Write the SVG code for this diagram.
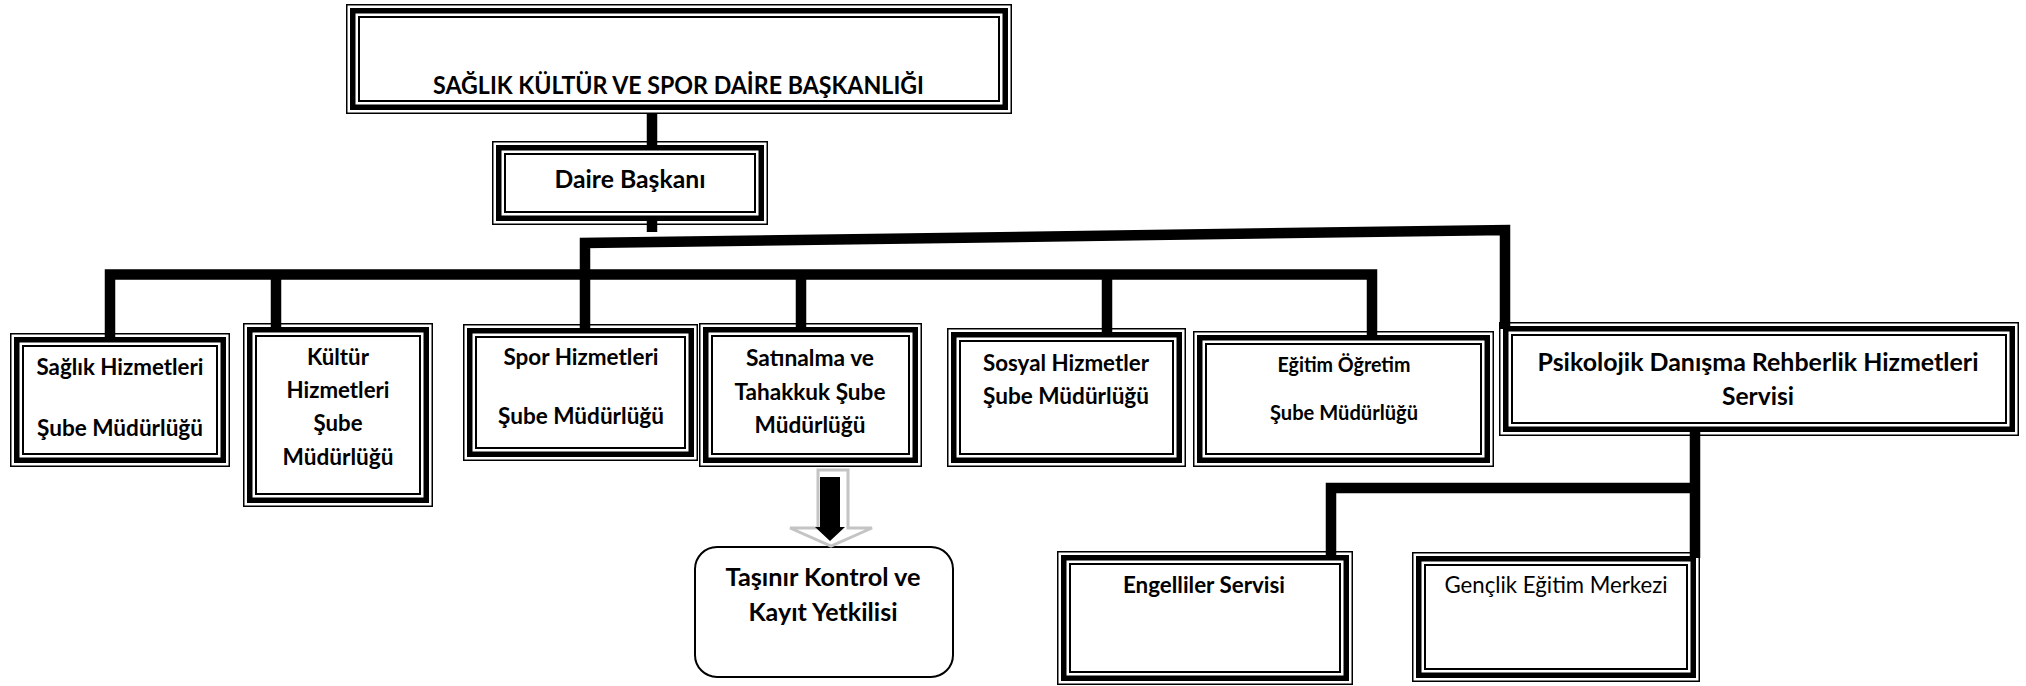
<svg xmlns="http://www.w3.org/2000/svg" width="2026" height="686" viewBox="0 0 2026 686">
<style>
  .bg{fill:#ffffff}
  .o{fill:#ffffff;stroke:#000;stroke-width:1.5}
  .t{fill:none;stroke:#000;stroke-width:5.5}
  .i{fill:none;stroke:#000;stroke-width:2}
  .c{fill:none;stroke:#000;stroke-width:10.5;stroke-linecap:butt;stroke-linejoin:miter}
  text{font-family:Lato,"Noto Sans","DejaVu Sans",sans-serif;fill:#000;text-anchor:middle}
  .b{font-weight:700;font-size:22.6px}
  .l{font-weight:700;font-size:25px}
  .s{font-weight:700;font-size:20px}
  .r{font-weight:400;font-size:22.6px}
</style>
<rect class="bg" x="0" y="0" width="2026" height="686"/>

<g id="n-top">
  <rect class="o" x="346.75" y="4.75" width="664.5" height="108.5"/>
  <rect class="t" x="352.75" y="10.75" width="652.5" height="96.5"/>
  <rect class="i" x="359" y="17" width="640" height="84"/>
  <text class="l" x="678.5" y="94" textLength="491" lengthAdjust="spacingAndGlyphs">SAĞLIK KÜLTÜR VE SPOR DAİRE BAŞKANLIĞI</text>
</g>

<g id="n-daire">
  <rect class="o" x="492.75" y="141.75" width="274.5" height="82.5"/>
  <rect class="t" x="498.75" y="147.75" width="262.5" height="70.5"/>
  <rect class="i" x="505" y="154" width="250" height="58"/>
  <text class="l" x="630" y="188" textLength="151" lengthAdjust="spacingAndGlyphs">Daire Başkanı</text>
</g>

<g id="n-saglik">
  <rect class="o" x="10.75" y="333.75" width="218.5" height="132.5"/>
  <rect class="t" x="16.75" y="339.75" width="206.5" height="120.5"/>
  <rect class="i" x="23" y="346" width="194" height="108"/>
  <text class="b" x="120" y="375" textLength="167" lengthAdjust="spacingAndGlyphs">Sağlık Hizmetleri</text>
  <text class="b" x="120" y="436" textLength="166" lengthAdjust="spacingAndGlyphs">Şube Müdürlüğü</text>
</g>

<g id="n-kultur">
  <rect class="o" x="243.75" y="323.75" width="188.5" height="182.5"/>
  <rect class="t" x="249.75" y="329.75" width="176.5" height="170.5"/>
  <rect class="i" x="256" y="336" width="164" height="158"/>
  <text class="b" x="338" y="365" textLength="62" lengthAdjust="spacingAndGlyphs">Kültür</text>
  <text class="b" x="338" y="398" textLength="103" lengthAdjust="spacingAndGlyphs">Hizmetleri</text>
  <text class="b" x="338" y="431" textLength="49" lengthAdjust="spacingAndGlyphs">Şube</text>
  <text class="b" x="338" y="465" textLength="111" lengthAdjust="spacingAndGlyphs">Müdürlüğü</text>
</g>

<g id="n-spor">
  <rect class="o" x="463.75" y="324.75" width="233.5" height="135.5"/>
  <rect class="t" x="469.75" y="330.75" width="221.5" height="123.5"/>
  <rect class="i" x="476" y="337" width="209" height="111"/>
  <text class="b" x="581" y="365" textLength="155" lengthAdjust="spacingAndGlyphs">Spor Hizmetleri</text>
  <text class="b" x="581" y="424" textLength="166" lengthAdjust="spacingAndGlyphs">Şube Müdürlüğü</text>
</g>

<g id="n-satinalma">
  <rect class="o" x="699.75" y="323.75" width="221.5" height="142.5"/>
  <rect class="t" x="705.75" y="329.75" width="209.5" height="130.5"/>
  <rect class="i" x="712" y="336" width="197" height="118"/>
  <text class="b" x="810" y="366" textLength="128" lengthAdjust="spacingAndGlyphs">Satınalma ve</text>
  <text class="b" x="810" y="400" textLength="151" lengthAdjust="spacingAndGlyphs">Tahakkuk Şube</text>
  <text class="b" x="810" y="433" textLength="111" lengthAdjust="spacingAndGlyphs">Müdürlüğü</text>
</g>

<g id="n-sosyal">
  <rect class="o" x="947.75" y="328.75" width="237.5" height="137.5"/>
  <rect class="t" x="953.75" y="334.75" width="225.5" height="125.5"/>
  <rect class="i" x="960" y="341" width="213" height="113"/>
  <text class="b" x="1066" y="371" textLength="166" lengthAdjust="spacingAndGlyphs">Sosyal Hizmetler</text>
  <text class="b" x="1066" y="404" textLength="166" lengthAdjust="spacingAndGlyphs">Şube Müdürlüğü</text>
</g>

<g id="n-egitim">
  <rect class="o" x="1193.75" y="331.75" width="299.5" height="134.5"/>
  <rect class="t" x="1199.75" y="337.75" width="287.5" height="122.5"/>
  <rect class="i" x="1206" y="344" width="275" height="110"/>
  <text class="s" x="1344" y="372" textLength="133" lengthAdjust="spacingAndGlyphs">Eğitim Öğretim</text>
  <text class="s" x="1344" y="420" textLength="148" lengthAdjust="spacingAndGlyphs">Şube Müdürlüğü</text>
</g>

<g id="n-psikolojik">
  <rect class="o" x="1499.75" y="322.75" width="518.5" height="112.5"/>
  <rect class="t" x="1505.75" y="328.75" width="506.5" height="100.5"/>
  <rect class="i" x="1512" y="335" width="494" height="88"/>
  <text class="l" x="1758" y="371" textLength="441" lengthAdjust="spacingAndGlyphs">Psikolojik Danışma Rehberlik Hizmetleri</text>
  <text class="l" x="1758" y="405" textLength="72" lengthAdjust="spacingAndGlyphs">Servisi</text>
</g>

<g id="n-tasinir">
  <rect x="695" y="547" width="258" height="130" rx="22" ry="22" fill="#ffffff" stroke="#000" stroke-width="2"/>
  <text class="l" x="823" y="586" textLength="195" lengthAdjust="spacingAndGlyphs">Taşınır Kontrol ve</text>
  <text class="l" x="823" y="621" textLength="149" lengthAdjust="spacingAndGlyphs">Kayıt Yetkilisi</text>
</g>

<g id="n-engelliler">
  <rect class="o" x="1057.75" y="551.75" width="294.5" height="132.5"/>
  <rect class="t" x="1063.75" y="557.75" width="282.5" height="120.5"/>
  <rect class="i" x="1070" y="564" width="270" height="108"/>
  <text class="b" x="1204" y="593" textLength="162" lengthAdjust="spacingAndGlyphs">Engelliler Servisi</text>
</g>

<g id="n-genclik">
  <rect class="o" x="1412.75" y="552.75" width="286.5" height="128.5"/>
  <rect class="t" x="1418.75" y="558.75" width="274.5" height="116.5"/>
  <rect class="i" x="1425" y="565" width="262" height="104"/>
  <text class="r" x="1556" y="593" textLength="223" lengthAdjust="spacingAndGlyphs">Gençlik Eğitim Merkezi</text>
</g>

<g id="connectors">
  <line class="c" x1="652" y1="113" x2="652" y2="148"/>
  <line class="c" x1="652" y1="218" x2="652" y2="232"/>
  <polyline class="c" points="585,329 585,243 1505,230 1505,329"/>
  <polyline class="c" points="110,339 110,274.5 1372,274.5 1372,338"/>
  <line class="c" x1="276" y1="274" x2="276" y2="330"/>
  <line class="c" x1="801" y1="274" x2="801" y2="330"/>
  <line class="c" x1="1107" y1="274" x2="1107" y2="335"/>
  <line class="c" x1="1695" y1="430" x2="1695" y2="558"/>
  <polyline class="c" points="1331,558 1331,488 1695,488"/>
  <g id="arrow">
    <polygon points="818,470 848,470 848,528 872,528 831,546 790,528 818,528" fill="#ffffff" stroke="#c4c4c4" stroke-width="3"/>
    <polygon points="820,477 840,477 840,527 845,527 830,541 815,527 820,527" fill="#000"/>
  </g>
</g>
</svg>
